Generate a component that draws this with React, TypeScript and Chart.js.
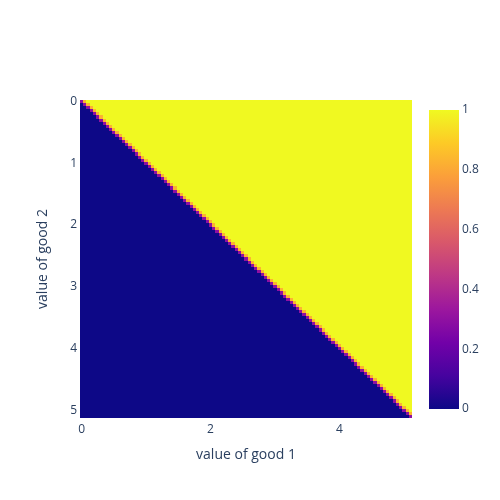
import React, { useEffect, useRef } from "react";
import { Chart, registerables } from "chart.js";

Chart.register(...registerables);

// ---- data ----
// grid of good values (both axes): 0, 0.05, ..., 5.1
const GRID_STEP = 0.05;
const GRID_COUNT = 103;
const goodValues: number[] = Array.from({ length: GRID_COUNT }, (_, i) => +(i * GRID_STEP).toFixed(2));

// cell values
const valueBelowDiagonal = 0; // good 1 worth less than good 2
const valueOnDiagonal = 0.3; // purple cells on the diagonal
const valueJustAboveDiagonal = 0.83; // orange cells next to the diagonal
const valueAboveDiagonal = 1; // good 1 worth more than good 2

const xTicks = [0, 2, 4];
const yTicks = [0, 1, 2, 3, 4, 5];
const colorbarTicks = [0, 0.2, 0.4, 0.6, 0.8, 1];
const colorbarLabels = ["0", "0.2", "0.4", "0.6", "0.8", "1"];

const xTitle = "value of good 1";
const yTitle = "value of good 2";

// Plotly "plasma" colour scale
const plasmaStops = [0, 0.1111, 0.2222, 0.3333, 0.4444, 0.5556, 0.6667, 0.7778, 0.8889, 1];
const plasmaColors = ["#0d0887", "#46039f", "#7201a8", "#9c179e", "#bd3786", "#d8576b", "#ed7953", "#fb9f3a", "#fdca26", "#f0f921"];

// ---- helpers ----
function hexToRgb(h: string): number[] {
  const n = parseInt(h.slice(1), 16);
  return [(n >> 16) & 255, (n >> 8) & 255, n & 255];
}
const plasmaRgb = plasmaColors.map(hexToRgb);
function plasma(v: number): string {
  const t = Math.max(0, Math.min(1, v));
  let i = 0;
  while (i < plasmaStops.length - 2 && t > plasmaStops[i + 1]) i++;
  const f = (t - plasmaStops[i]) / (plasmaStops[i + 1] - plasmaStops[i]);
  const a = plasmaRgb[i], b = plasmaRgb[i + 1];
  const c = a.map((av, k) => Math.round(av + (b[k] - av) * f));
  return `rgb(${c[0]},${c[1]},${c[2]})`;
}

type Cell = { x: number; y: number; v: number };
const cells: Cell[] = [];
goodValues.forEach((gy, i) => {
  goodValues.forEach((gx, j) => {
    let v = valueBelowDiagonal;
    if (j === i) v = valueOnDiagonal;
    else if (j === i + 1) v = valueJustAboveDiagonal;
    else if (j > i) v = valueAboveDiagonal;
    cells.push({ x: gx, y: gy, v });
  });
});

const FONT = '"Open Sans", "DejaVu Sans", sans-serif';
const TEXT_COLOR = "#2a3f5f";
const HALF = GRID_STEP / 2;

const heatmapPlugin = {
  id: "heatmapCells",
  beforeDatasetsDraw(chart: any) {
    const { ctx, chartArea, scales } = chart;
    const xs = scales.x, ys = scales.y;
    const data: Cell[] = chart.data.datasets[0].data;
    ctx.save();
    ctx.beginPath();
    ctx.rect(chartArea.left, chartArea.top, chartArea.right - chartArea.left, chartArea.bottom - chartArea.top);
    ctx.clip();
    for (const c of data) {
      const l = Math.round(xs.getPixelForValue(c.x - HALF));
      const r = Math.round(xs.getPixelForValue(c.x + HALF));
      const t1 = Math.round(ys.getPixelForValue(c.y - HALF));
      const t2 = Math.round(ys.getPixelForValue(c.y + HALF));
      ctx.fillStyle = plasma(c.v);
      ctx.fillRect(l, Math.min(t1, t2), r - l, Math.abs(t2 - t1));
    }
    ctx.restore();
  },
};

export default function App() {
  const mainRef = useRef<HTMLCanvasElement>(null);
  const barRef = useRef<HTMLCanvasElement>(null);

  useEffect(() => {
    const tickFont = { family: FONT, size: 12 };
    const titleFont = { family: FONT, size: 14 };
    const main = new Chart(mainRef.current!, {
      type: "scatter",
      data: { datasets: [{ data: cells as any, pointRadius: 0, pointHoverRadius: 0 }] },
      options: {
        animation: false,
        responsive: false,
        events: [],
        layout: { padding: { left: 0, top: 100, right: 88, bottom: 0 } },
        plugins: { legend: { display: false }, tooltip: { enabled: false } },
        scales: {
          x: {
            type: "linear",
            position: "bottom",
            min: -HALF,
            max: goodValues[goodValues.length - 1] + HALF,
            afterFit: (s: any) => { s.height = 82; },
            afterBuildTicks: (s: any) => { s.ticks = xTicks.map((v) => ({ value: v })); },
            grid: { display: false, drawTicks: false },
            border: { display: false },
            ticks: { font: tickFont, color: TEXT_COLOR, padding: 4, maxRotation: 0, autoSkip: false, callback: (v: any) => String(v) },
            title: { display: true, text: xTitle, font: titleFont, color: TEXT_COLOR, padding: { top: 0, bottom: 37 } },
          },
          y: {
            type: "linear",
            reverse: true,
            min: -HALF,
            max: goodValues[goodValues.length - 1] + HALF,
            afterFit: (s: any) => { s.width = 80; },
            afterBuildTicks: (s: any) => { s.ticks = yTicks.map((v) => ({ value: v })); },
            grid: { display: false, drawTicks: false },
            border: { display: false },
            ticks: { font: tickFont, color: TEXT_COLOR, padding: 3, autoSkip: false, callback: (v: any) => String(v) },
            title: { display: true, text: yTitle, font: titleFont, color: TEXT_COLOR, padding: { top: 35, bottom: 0 } },
          },
        },
      } as any,
      plugins: [heatmapPlugin],
    });

    const bar = new Chart(barRef.current!, {
      type: "bar",
      data: {
        labels: [""],
        datasets: [
          {
            data: [1],
            barPercentage: 1,
            categoryPercentage: 1,
            borderWidth: 0,
            backgroundColor: (c: any) => {
              const ca = c.chart.chartArea;
              if (!ca || !isFinite(ca.top) || !isFinite(ca.bottom) || ca.bottom <= ca.top) {
                return plasmaColors[plasmaColors.length - 1];
              }
              const g = c.chart.ctx.createLinearGradient(0, ca.bottom, 0, ca.top);
              plasmaStops.forEach((s, i) => g.addColorStop(s, plasmaColors[i]));
              return g;
            },
          },
        ],
      },
      options: {
        animation: false,
        responsive: false,
        events: [],
        layout: { padding: { left: 429, top: 110, right: 0, bottom: 91 } },
        plugins: { legend: { display: false }, tooltip: { enabled: false } },
        scales: {
          x: { display: false },
          y: {
            position: "right",
            min: 0,
            max: 1,
            afterFit: (s: any) => { s.width = 41; },
            afterBuildTicks: (s: any) => { s.ticks = colorbarTicks.map((v) => ({ value: v })); },
            grid: { display: false, drawTicks: false },
            border: { display: false },
            ticks: {
              font: { family: FONT, size: 12 },
              color: TEXT_COLOR,
              padding: 3,
              autoSkip: false,
              callback: (v: any) => colorbarLabels[colorbarTicks.indexOf(v)] ?? String(v),
            },
          },
        },
      } as any,
    });

    return () => {
      main.destroy();
      bar.destroy();
    };
  }, []);

  return (
    <div style={{ position: "fixed", left: 0, top: 0, width: 500, height: 500, background: "#fff" }}>
      <canvas ref={mainRef} width={500} height={500} style={{ position: "absolute", left: 0, top: 0 }} />
      <canvas ref={barRef} width={500} height={500} style={{ position: "absolute", left: 0, top: 0 }} />
    </div>
  );
}
